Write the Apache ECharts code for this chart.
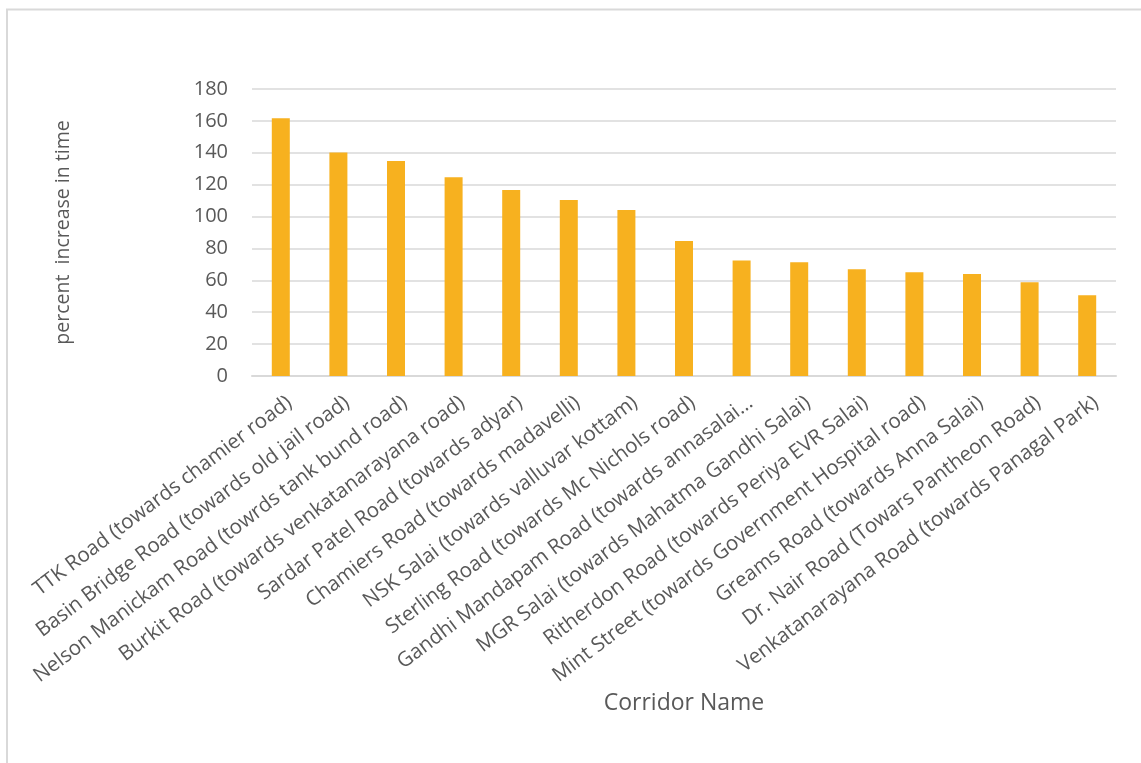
<!DOCTYPE html>
<html>
<head>
<meta charset="utf-8">
<script src="https://cdn.jsdelivr.net/npm/echarts@6/dist/echarts.min.js"></script>
<style>
html,body{margin:0;padding:0;background:#fff;}
#chart{width:1141px;height:763px;}
</style>
</head>
<body>
<div id="chart"></div>
<script>
const categories = [
  "TTK Road (towards chamier road)",
  "Basin Bridge Road (towards old jail road)",
  "Nelson Manickam Road (towrds tank bund road)",
  "Burkit Road (towards venkatanarayana road)",
  "Sardar Patel Road (towards adyar)",
  "Chamiers Road (towards madavelli)",
  "NSK Salai (towards valluvar kottam)",
  "Sterling Road (towards Mc Nichols road)",
  "Gandhi Mandapam Road (towards annasalai…",
  "MGR Salai (towards Mahatma Gandhi Salai)",
  "Ritherdon Road (towards Periya EVR Salai)",
  "Mint Street (towards Government Hospital road)",
  "Greams Road (towards Anna Salai)",
  "Dr. Nair Road (Towars Pantheon Road)",
  "Venkatanarayana Road (towards Panagal Park)"
];
const percentIncrease = [161.7, 140.1, 134.9, 124.6, 116.6, 110.4, 104.1, 84.6, 72.5, 71.4, 67.0, 65.1, 63.9, 58.8, 50.7];
const yTicks = [0, 20, 40, 60, 80, 100, 120, 140, 160, 180];

const chart = echarts.init(document.getElementById('chart'), null, {renderer: 'canvas'});
const font = '"Open Sans", "DejaVu Sans", sans-serif';
chart.setOption({
  animation: false,
  backgroundColor: '#ffffff',
  graphic: [{
    type: 'rect',
    shape: {x: 7, y: 9.5, width: 1200, height: 800},
    style: {fill: 'none', stroke: '#d9d9d9', lineWidth: 2},
    silent: true, z: -10
  }],
  grid: {left: 252, right: 25, top: 89, bottom: 387, containLabel: false},
  xAxis: {
    type: 'category',
    data: categories,
    name: 'Corridor Name',
    nameLocation: 'middle',
    nameGap: 316,
    nameTextStyle: {fontFamily: font, fontSize: 23, color: '#595959'},
    axisLine: {show: true, lineStyle: {color: '#d9d9d9', width: 2}},
    axisTick: {show: false},
    axisLabel: {
      interval: 0, rotate: 37, margin: 31,
      padding: [0, -11, 0, 0],
      fontFamily: font, fontSize: 20.5, color: '#595959'
    }
  },
  yAxis: {
    type: 'value',
    min: yTicks[0], max: yTicks[yTicks.length - 1], interval: 20,
    name: 'percent  increase in time',
    nameLocation: 'middle',
    nameGap: 179,
    nameTextStyle: {fontFamily: font, fontSize: 19.5, color: '#595959'},
    axisLine: {show: false},
    axisTick: {show: false},
    axisLabel: {margin: 24, fontFamily: font, fontSize: 20, color: '#595959'},
    splitLine: {lineStyle: {color: '#d9d9d9', width: 1.5}}
  },
  series: [{
    type: 'bar',
    data: percentIncrease,
    barWidth: 18,
    itemStyle: {color: '#F7B11F'}
  }]
});
</script>
</body>
</html>
